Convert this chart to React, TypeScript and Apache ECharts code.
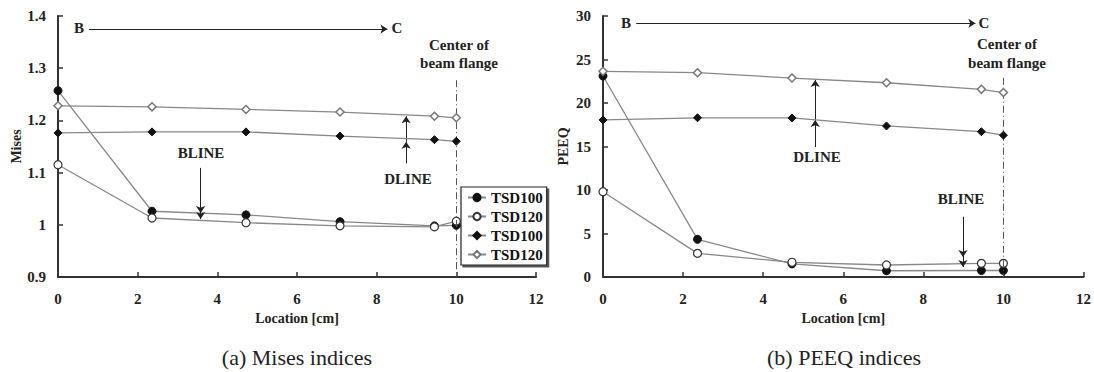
import React, { useEffect, useRef } from "react";
import * as echarts from "echarts";

const locations = [0, 2.36, 4.72, 7.08, 9.45, 10];
const xTicks = [0, 12, 2];
const misesBlineTSD100 = [1.257, 1.026, 1.019, 1.006, 0.998, 0.999];
const misesBlineTSD120 = [1.115, 1.013, 1.004, 0.998, 0.996, 1.007];
const misesDlineTSD100 = [1.176, 1.178, 1.178, 1.17, 1.163, 1.16];
const misesDlineTSD120 = [1.228, 1.226, 1.221, 1.216, 1.208, 1.205];
const peeqBlineTSD100 = [23.1, 4.33, 1.5, 0.72, 0.75, 0.75];
const peeqBlineTSD120 = [9.8, 2.72, 1.69, 1.38, 1.57, 1.57];
const peeqDlineTSD100 = [18.05, 18.3, 18.28, 17.36, 16.7, 16.3];
const peeqDlineTSD120 = [23.64, 23.48, 22.87, 22.33, 21.57, 21.2];
const legendNames = ["TSD100-B", "TSD120-B", "TSD100-D", "TSD120-D"];

const FONT = "Liberation Serif";
const pair = (ys: number[]) => locations.map((x, i) => [x, ys[i]]);

const styles = [
  { symbol: "circle", symbolSize: 8, itemStyle: { color: "#111", borderColor: "#111", borderWidth: 1 } },
  { symbol: "circle", symbolSize: 8, itemStyle: { color: "#fff", borderColor: "#333", borderWidth: 1.2 } },
  { symbol: "diamond", symbolSize: 8, itemStyle: { color: "#111", borderColor: "#111", borderWidth: 1 } },
  { symbol: "diamond", symbolSize: 8, itemStyle: { color: "#fff", borderColor: "#777", borderWidth: 1.5 } },
];

function mkSeries(name: string, idx: number, data: number[], styleIdx: number, markLine?: any) {
  const s: any = {
    type: "line",
    name,
    xAxisIndex: idx,
    yAxisIndex: idx,
    data: pair(data),
    ...styles[styleIdx],
    lineStyle: { color: "#888", width: 1.3 },
    z: 3 + styleIdx,
    silent: true,
  };
  if (markLine) s.markLine = markLine;
  return s;
}

function arrowLines(items: any[]) {
  return {
    silent: true,
    symbol: ["none", "arrow"],
    symbolSize: 7,
    label: { show: false },
    lineStyle: { color: "#222", width: 1, type: "solid" },
    data: items,
  };
}

const seg = (x1: number, y1: number, x2: number, y2: number, dash = false) =>
  dash
    ? [
        { coord: [x1, y1], symbol: "none", lineStyle: { type: [7, 3, 1, 3], color: "#555", width: 1 } },
        { coord: [x2, y2], symbol: "none" },
      ]
    : [{ coord: [x1, y1] }, { coord: [x2, y2] }];

const axisLabel = { fontFamily: FONT, fontWeight: "bold", fontSize: 15, color: "#222" };
const nameStyle = { fontFamily: FONT, fontWeight: "bold", fontSize: 14, color: "#222" };

function xAx(gridIndex: number) {
  return {
    type: "value",
    gridIndex,
    min: xTicks[0],
    max: xTicks[1],
    interval: xTicks[2],
    name: "Location [cm]",
    nameLocation: "middle",
    nameGap: 34,
    nameTextStyle: nameStyle,
    axisLine: { lineStyle: { color: "#333", width: 2 } },
    axisTick: { inside: true, length: 5, lineStyle: { color: "#333", width: 1.5 } },
    axisLabel: { ...axisLabel, margin: 14 },
    splitLine: { show: false },
  };
}

function yAx(gridIndex: number, name: string, min: number, max: number, interval: number, gap: number) {
  return {
    type: "value",
    gridIndex,
    min,
    max,
    interval,
    name,
    nameLocation: "middle",
    nameGap: gap,
    nameTextStyle: nameStyle,
    axisLine: { show: true, lineStyle: { color: "#333", width: 2 } },
    axisTick: { show: true, inside: true, length: 5, lineStyle: { color: "#333", width: 1.5 } },
    axisLabel: { ...axisLabel, margin: 12 },
    splitLine: { show: false },
  };
}

const txt = (x: number, y: number, text: string, size = 15, weight = "bold") => ({
  type: "text",
  x,
  y,
  style: {
    text,
    x: 0,
    y: 0,
    fill: "#222",
    font: `${weight} ${size}px "${FONT}"`,
    align: "center",
    verticalAlign: "middle",
  },
  silent: true,
});

export default function App() {
  const ref = useRef<HTMLDivElement>(null);
  useEffect(() => {
    document.body.style.margin = "0";
    const chart = echarts.init(ref.current!, null, { renderer: "svg" });
    const leftMarks = arrowLines([
      seg(0.78, 1.375, 8.27, 1.375),
      seg(10, 1.277, 10, 0.9, true),
      seg(3.58, 1.109, 3.58, 1.0226),
      seg(3.58, 1.0226, 3.58, 1.011),
      seg(8.74, 1.118, 8.74, 1.159),
      seg(8.74, 1.159, 8.74, 1.208),
    ]);
    const rightMarks = arrowLines([
      seg(0.83, 29.16, 9.3, 29.16),
      seg(10, 22.9, 10, 0, true),
      seg(5.3, 14.94, 5.3, 18.05),
      seg(5.3, 18.05, 5.3, 22.64),
      seg(8.99, 6.93, 8.99, 2.3),
      seg(8.99, 2.3, 8.99, 1.15),
    ]);
    chart.setOption({
      animation: false,
      backgroundColor: "#fff",
      grid: [
        { left: 58, width: 478, top: 16, height: 261 },
        { left: 603, width: 481, top: 16, height: 261 },
      ],
      xAxis: [xAx(0), xAx(1)],
      yAxis: [yAx(0, "Mises", 0.9, 1.4, 0.1, 34), yAx(1, "PEEQ", 0, 30, 5, 33)],
      legend: {
        orient: "vertical",
        left: 461,
        top: 187,
        data: legendNames,
        formatter: (n: string) => n.split("-")[0],
        itemWidth: 18,
        itemHeight: 9,
        itemGap: 4,
        padding: [3, 4, 3, 6],
        backgroundColor: "#fff",
        borderColor: "#222",
        borderWidth: 1.2,
        borderRadius: 0,
        shadowColor: "#555",
        shadowOffsetX: 2,
        shadowOffsetY: 2,
        shadowBlur: 0,
        selectedMode: false,
        textStyle: { fontFamily: FONT, fontWeight: "bold", fontSize: 15, color: "#111" },
      },
      series: [
        mkSeries(legendNames[0], 0, misesBlineTSD100, 0, leftMarks),
        mkSeries(legendNames[1], 0, misesBlineTSD120, 1),
        mkSeries(legendNames[2], 0, misesDlineTSD100, 2),
        mkSeries(legendNames[3], 0, misesDlineTSD120, 3),
        mkSeries(legendNames[0], 1, peeqBlineTSD100, 0, rightMarks),
        mkSeries(legendNames[1], 1, peeqBlineTSD120, 1),
        mkSeries(legendNames[2], 1, peeqDlineTSD100, 2),
        mkSeries(legendNames[3], 1, peeqDlineTSD120, 3),
      ],
      graphic: [
        txt(79, 28, "B"),
        txt(397, 28, "C"),
        txt(459, 45, "Center of"),
        txt(459, 63, "beam flange"),
        txt(201, 153, "BLINE"),
        txt(408, 179, "DLINE"),
        txt(626, 23, "B"),
        txt(984, 23, "C"),
        txt(1007, 44, "Center of"),
        txt(1007, 63, "beam flange"),
        txt(817, 157, "DLINE"),
        txt(961, 199, "BLINE"),
        txt(297, 357, "(a) Mises indices", 22, "normal"),
        txt(844, 357, "(b) PEEQ indices", 22, "normal"),
      ],
    });
    return () => chart.dispose();
  }, []);
  return <div ref={ref} style={{ width: 1094, height: 372 }} />;
}
